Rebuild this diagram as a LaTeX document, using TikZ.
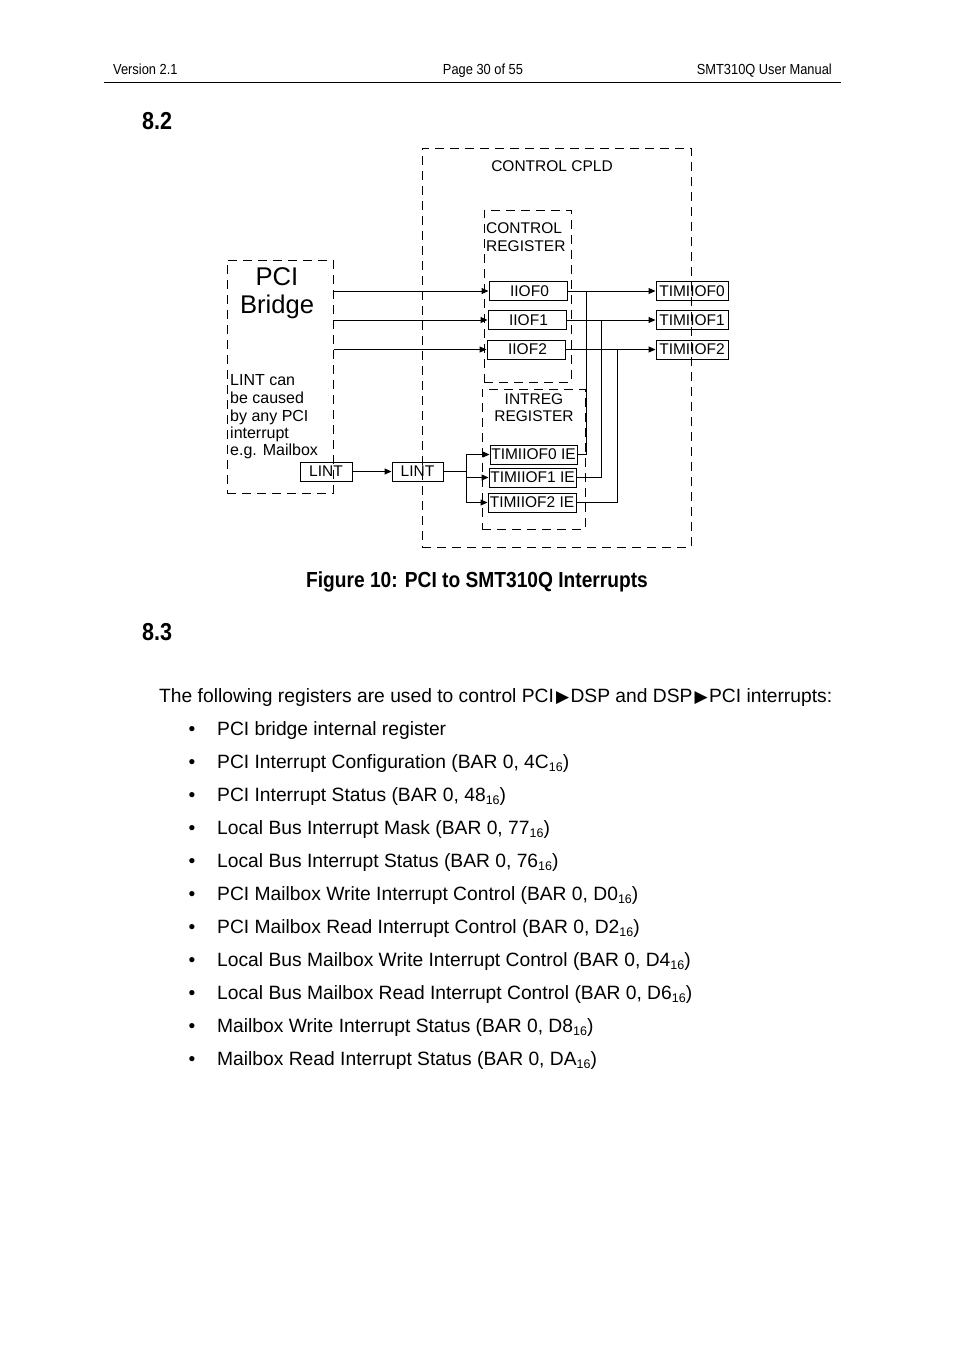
\documentclass[tikz,border=0pt]{standalone}
\usepackage{fontspec}
\setmainfont{Liberation Sans}
\newfontfamily\narrowf[FakeStretch=0.88]{Liberation Sans}
\newfontfamily\symf{DejaVu Sans}
\usetikzlibrary{arrows.meta}
\newcommand{\setpx}[1]{\fontsize{#1}{#1}\selectfont}
\newcommand{\hexsub}[1]{\raisebox{-3.5pt}{\setpx{12.5}#1}}
\newcommand{\tri}{\hspace{2pt}{\symf\setpx{17}▶}\hspace{1.5pt}}
\tikzset{
  dbox/.style={draw, dash pattern=on 9pt off 6pt, line width=1pt, inner sep=0pt},
  reg/.style={draw, line width=1pt, inner sep=0pt, font=\setpx{15.5}},
  lbl/.style={inner sep=0pt, font=\setpx{15.5}},
  wire/.style={line width=1pt},
  arr/.style={line width=1pt, -{Triangle[length=7pt,width=6pt]}},
  body/.style={inner sep=0pt, anchor=base west, font=\setpx{19.25}},
  bul/.style={inner sep=0pt, anchor=base, font=\setpx{19.25}},
  hdr/.style={inner sep=0pt, font=\narrowf\setpx{14.6}},
  sect/.style={inner sep=0pt, anchor=base west, font=\narrowf\bfseries\setpx{24.5}}
}
\begin{document}
\begin{tikzpicture}[x=1pt,y=-1pt]
\useasboundingbox (0,0) rectangle (954,1350);
\fill[white] (0,0) rectangle (954,1350);

% header
\node[hdr, anchor=base west] (hv) at (113,74) {Version 2.1};
\node[hdr, anchor=base] (hp) at (483,74) {Page 30 of 55};
\node[hdr, anchor=base east] (hm) at (832,74) {SMT310Q User Manual};
\coordinate (hl1) at (104,82);
\coordinate (hl2) at (841,82);
\draw[line width=1pt] (hl1) -- (hl2);

\node[sect] (s82) at (142,129) {8.2};

% dashed containers
\node[dbox, minimum width=269pt, minimum height=399pt] (cpld) at (556.5,347.5) {};
\node[dbox, minimum width=87pt, minimum height=172pt] (ctrl) at (527.5,296) {};
\node[dbox, minimum width=103pt, minimum height=140pt] (intr) at (533.5,459) {};
\node[dbox, minimum width=106pt, minimum height=233pt] (pci) at (280,376.5) {};

% container labels
\node[lbl] (cpldt) at (552,166) {CONTROL CPLD};
\node[lbl, anchor=base west] (ctrlt1) at (486,233.5) {CONTROL};
\node[lbl, anchor=base west] (ctrlt2) at (486,251.5) {REGISTER};
\node[lbl, anchor=base] (intrt1) at (534,404.5) {INTREG};
\node[lbl, anchor=base] (intrt2) at (534,421.5) {REGISTER};
\node[inner sep=0pt, anchor=base, font=\setpx{25.6}] (pcit1) at (277,285) {PCI};
\node[inner sep=0pt, anchor=base, font=\setpx{25.6}] (pcit2) at (277,313.5) {Bridge};
\node[inner sep=0pt, anchor=base west, font=\setpx{16}] (n1) at (230,385) {LINT can};
\node[inner sep=0pt, anchor=base west, font=\setpx{16}] (n2) at (230,403) {be caused};
\node[inner sep=0pt, anchor=base west, font=\setpx{16}] (n3) at (230,421) {by any PCI};
\node[inner sep=0pt, anchor=base west, font=\setpx{16}] (n4) at (230,438) {interrupt};
\node[inner sep=0pt, anchor=base west, font=\setpx{16}] (n5) at (230,455) {e.g. Mailbox};

% register boxes
\node[reg, minimum width=78pt, minimum height=19pt] (i0) at (528,291) {\hspace{3pt}IIOF0};
\node[reg, minimum width=78pt, minimum height=19pt] (i1) at (527,320) {\hspace{3pt}IIOF1};
\node[reg, minimum width=78pt, minimum height=19pt] (i2) at (526,349.5) {\hspace{3pt}IIOF2};
\node[reg, minimum width=72pt, minimum height=19pt] (t0) at (692,291) {TIMIIOF0};
\node[reg, minimum width=72pt, minimum height=19pt] (t1) at (692,320) {TIMIIOF1};
\node[reg, minimum width=72pt, minimum height=19pt] (t2) at (692,349.5) {TIMIIOF2};
\node[reg, minimum width=87pt, minimum height=19pt] (e0) at (533.5,454.5) {TIMIIOF0 IE};
\node[reg, minimum width=87pt, minimum height=19pt] (e1) at (532.5,477.5) {TIMIIOF1 IE};
\node[reg, minimum width=88pt, minimum height=19pt] (e2) at (532,502.5) {TIMIIOF2 IE};
\node[reg, minimum width=52pt, minimum height=19pt] (l1) at (326,471.5) {LINT};
\node[reg, minimum width=51pt, minimum height=19pt] (l2) at (417.5,471.5) {LINT};

% connectors
\draw[arr] (pci.east |- i0) -- (i0.west);
\draw[arr] (pci.east |- i1) -- (i1.west);
\draw[arr] (pci.east |- i2) -- (i2.west);
\draw[arr] (i0.east) -- (t0.west);
\draw[arr] (i1.east) -- (t1.west);
\draw[arr] (i2.east) -- (t2.west);
\coordinate (v0) at (586,291);
\coordinate (v1) at (601,320);
\coordinate (v2) at (617,349.5);
\draw[wire] (v0) |- (e0.east);
\draw[wire] (v1) |- (e1.east);
\draw[wire] (v2) |- (e2.east);
\draw[arr] (l1.east) -- (l2.west);
\coordinate (fk) at (466,471.5);
\draw[wire] (l2.east) -- (fk);
\draw[wire] (fk |- e0) -- (fk |- e2);
\draw[arr] (fk |- e0) -- (e0.west);
\draw[arr] (fk |- e1) -- (e1.west);
\draw[arr] (fk |- e2) -- (e2.west);

% caption
\node[inner sep=0pt, anchor=base, font=\narrowf\bfseries\setpx{21.8}] (cap) at (477,587) {Figure 10: PCI to SMT310Q Interrupts};

\node[sect] (s83) at (142,640) {8.3};

% body text
\node[body] (intro) at (159,702) {The following registers are used to control PCI\tri DSP and DSP\tri PCI interrupts:};
\foreach \k/\t in {0/{PCI bridge internal register},
  1/{PCI Interrupt Configuration (BAR 0, 4C\hexsub{16})},
  2/{PCI Interrupt Status (BAR 0, 48\hexsub{16})},
  3/{Local Bus Interrupt Mask (BAR 0, 77\hexsub{16})},
  4/{Local Bus Interrupt Status (BAR 0, 76\hexsub{16})},
  5/{PCI Mailbox Write Interrupt Control (BAR 0, D0\hexsub{16})},
  6/{PCI Mailbox Read Interrupt Control (BAR 0, D2\hexsub{16})},
  7/{Local Bus Mailbox Write Interrupt Control (BAR 0, D4\hexsub{16})},
  8/{Local Bus Mailbox Read Interrupt Control (BAR 0, D6\hexsub{16})},
  9/{Mailbox Write Interrupt Status (BAR 0, D8\hexsub{16})},
  10/{Mailbox Read Interrupt Status (BAR 0, DA\hexsub{16})}}{
  \node[bul] (b\k) at (192,735+33*\k) {•};
  \node[body] (bt\k) at (217,735+33*\k) {\t};
}
\end{tikzpicture}
\end{document}
